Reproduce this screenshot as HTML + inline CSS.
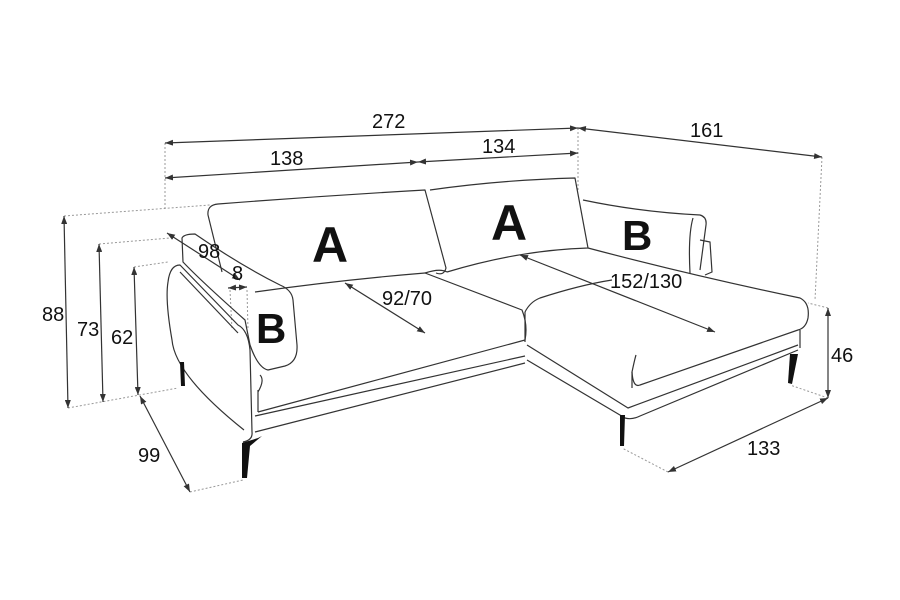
<!DOCTYPE html>
<html><head><meta charset="utf-8"><style>
html,body{margin:0;padding:0;background:#fff;}
svg{display:block}
text{font-family:"Liberation Sans",sans-serif;fill:#111;}
.d{font-size:20px;}
.big{font-size:50px;font-weight:bold;}
.b2{font-size:42px;font-weight:bold;}
</style></head><body>
<svg width="900" height="600" viewBox="0 0 900 600" xmlns="http://www.w3.org/2000/svg">
<defs>
<marker id="ar" markerWidth="8" markerHeight="6" refX="8" refY="3" orient="auto-start-reverse" markerUnits="userSpaceOnUse"><path d="M0,0 L8,3 L0,6 z" fill="#333"/></marker>
</defs>
<g stroke="#999" stroke-width="1" stroke-dasharray="2,2" fill="none">
<line x1="165" y1="143" x2="165" y2="210"/>
<line x1="578" y1="128" x2="578" y2="190"/>
<line x1="822" y1="157" x2="815" y2="300"/>
<line x1="64" y1="216" x2="210" y2="205"/>
<line x1="99" y1="244" x2="170" y2="238"/>
<line x1="134" y1="267" x2="168" y2="262"/>
<line x1="68" y1="408" x2="178" y2="388"/>
<line x1="190" y1="492" x2="243" y2="480"/>
<line x1="668" y1="472" x2="622" y2="448"/>
<line x1="828" y1="398" x2="790" y2="385"/>
<line x1="828" y1="308" x2="808" y2="303"/>
<line x1="230" y1="290" x2="232" y2="330"/>
<line x1="247" y1="290" x2="248" y2="330"/>
</g>
<g stroke="#333" stroke-width="1.2" fill="none" marker-start="url(#ar)" marker-end="url(#ar)">
<line x1="165" y1="143" x2="578" y2="128"/>
<line x1="578" y1="128" x2="822" y2="157"/>
<line x1="165" y1="178" x2="418" y2="162"/>
<line x1="418" y1="162" x2="578" y2="153"/>
<line x1="64" y1="216" x2="68" y2="408"/>
<line x1="99" y1="244" x2="103" y2="402"/>
<line x1="134" y1="267" x2="138" y2="395"/>
<line x1="140" y1="396" x2="190" y2="492"/>
<line x1="828" y1="308" x2="828" y2="398"/>
<line x1="668" y1="472" x2="828" y2="398"/>
<line x1="345" y1="283" x2="425" y2="333"/>
<line x1="520" y1="255" x2="715" y2="332"/>
<line x1="167" y1="233" x2="240" y2="280"/>
<line x1="228" y1="288" x2="247" y2="287"/>
</g>
<g stroke="#333" stroke-width="1.2" fill="none" stroke-linejoin="round">
<!-- left back cushion -->
<path d="M222,272 L208,215 Q207,205 218,204 Q320,196 425,190 L446,268 Q444,276 436,273"/>
<!-- right back cushion -->
<path d="M430,190 Q500,180 575,178 L588,248 Q520,250 447,272"/>
<!-- left seat -->
<path d="M255,292 Q340,280 425,273 L522,310 Q528,325 525,340 L258,412"/>
<path d="M425,273 Q440,268 447,272"/>
<!-- base left -->
<path d="M255,416 L525,356 M255,432 L525,363"/>
<!-- outer arm -->
<path d="M244,430 Q175,375 172,340 Q165,300 168,282 Q170,265 180,265 L238,325 Q248,330 250,350 L252,432 Q253,440 243,442"/>
<path d="M180,272 L238,333"/>
<path d="M258,412 L258,390 M258,392 Q265,380 260,375"/>
<!-- left B pillow -->
<path d="M182,238 Q184,234 195,234 Q240,265 280,285 Q292,290 293,300 L297,345 Q298,362 285,366 L268,370 Q258,368 250,345 L245,320 Q200,280 183,262 Z"/>
<!-- chaise cushion -->
<path d="M588,248 Q690,275 800,298 Q810,303 808,318 Q806,328 798,330 L640,385 Q633,388 632,372"/>
<path d="M525,312 Q530,302 540,298 Q580,285 612,280"/>
<path d="M525,312 L525,342"/>
<path d="M632,388 L632,372 Q635,358 636,355"/>
<!-- chaise base -->
<path d="M527,345 L628,408 L798,345 M800,330 L800,348 M527,360 L625,418 Q632,420 640,416 L798,350"/>
<!-- right B pillow -->
<path d="M583,200 Q640,212 700,215 Q707,217 706,225 L700,270 M693,218 Q688,235 690,273"/>
<path d="M700,240 L710,242 L712,272 L705,275"/>
</g>
<g fill="#111">
<path d="M180,362 L184,362 L185,386 L181,386 Z"/>
<path d="M242,443 L258,438 L262,436 L250,446 L247,478 L242,478 Z"/>
<path d="M620,415 L625,415 L624,446 L620,446 Z"/>
<path d="M790,354 L798,354 L792,384 L788,383 Z"/>
</g>
<text class="d" x="372" y="128">272</text>
<text class="d" x="690" y="137">161</text>
<text class="d" x="270" y="165">138</text>
<text class="d" x="482" y="153">134</text>
<text class="d" x="42" y="321">88</text>
<text class="d" x="77" y="336">73</text>
<text class="d" x="111" y="344">62</text>
<text class="d" x="138" y="462">99</text>
<text class="d" x="831" y="362">46</text>
<text class="d" x="747" y="455">133</text>
<text class="d" x="382" y="305">92/70</text>
<text class="d" x="610" y="288">152/130</text>
<text class="d" x="198" y="258">98</text>
<text class="d" x="232" y="280">8</text>
<text class="big" x="312" y="262">A</text>
<text class="big" x="491" y="240">A</text>
<text class="b2" x="256" y="343">B</text>
<text class="b2" x="622" y="250">B</text>
</svg>
</body></html>
